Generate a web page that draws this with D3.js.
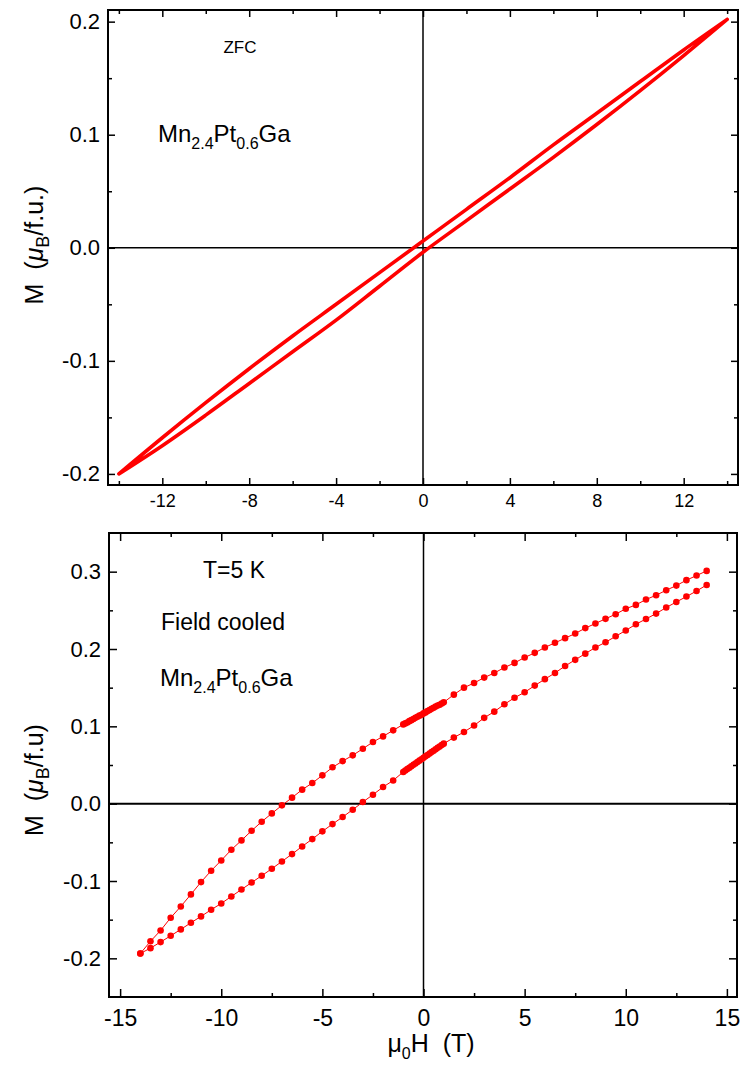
<!DOCTYPE html>
<html>
<head>
<meta charset="utf-8">
<script src="https://cdn.jsdelivr.net/npm/d3@7"></script>
<style>
  html, body { margin: 0; padding: 0; background: #fff; }
  svg { display: block; }
  text { font-family: "Liberation Sans", Arial, sans-serif; fill: #000; white-space: pre; }
</style>
</head>
<body>
<svg id="chart" width="743" height="1066"></svg>
<script>
// ---------------- DATA ----------------
// Top panel (ZFC): field sweep 14 T -> -14 T (upper branch) then -14 T -> 14 T (lower branch)
const zfcDownH = [14, 12, 10, 8, 6, 4, 2, 0, -2, -4, -6, -8, -10, -12, -14];
const zfcDownM = [0.202, 0.175, 0.147, 0.119, 0.091, 0.062, 0.034, 0.006, -0.022, -0.050, -0.078, -0.107, -0.137, -0.168, -0.200];
const zfcUpH = [-14, -12, -10, -8, -6, -4, -2, 0, 2, 4, 6, 8, 10, 12, 14];
const zfcUpM = [-0.200, -0.175, -0.148, -0.120, -0.092, -0.064, -0.034, -0.004, 0.024, 0.052, 0.080, 0.109, 0.139, 0.170, 0.202];

// Bottom panel (field cooled, T = 5 K): descending branch
const fcDownH = [14, 13.5, 13, 12.5, 12, 11.5, 11, 10.5, 10, 9.5, 9, 8.5, 8, 7.5, 7, 6.5, 6, 5.5, 5, 4.5, 4, 3.5, 3, 2.5, 2, 1.5,
  1.0, 0.9, 0.8, 0.7, 0.6, 0.5, 0.4, 0.3, 0.2, 0.1, 0.0, -0.1, -0.2, -0.3, -0.4, -0.5, -0.6, -0.7, -0.8, -0.9, -1.0,
  -1.5, -2, -2.5, -3, -3.5, -4, -4.5, -5, -5.5, -6, -6.5, -7, -7.5, -8, -8.5, -9, -9.5, -10, -10.5, -11, -11.5, -12, -12.5, -13, -13.5, -14];
const fcDownM = [0.301, 0.295, 0.289, 0.282, 0.276, 0.2695, 0.264, 0.257, 0.252, 0.245, 0.239, 0.233, 0.227, 0.220, 0.214, 0.208, 0.202, 0.195, 0.189, 0.182, 0.176, 0.169, 0.163, 0.156, 0.150, 0.141,
  0.131, 0.1296, 0.128, 0.127, 0.1255, 0.124, 0.1226, 0.121, 0.1197, 0.118, 0.1167, 0.115, 0.1138, 0.1124, 0.111, 0.1095, 0.108, 0.1067, 0.105, 0.1038, 0.1025,
  0.0948, 0.087, 0.0797, 0.071, 0.0625, 0.055, 0.047, 0.0366, 0.0267, 0.0181, 0.0078, -0.0022, -0.0126, -0.0233, -0.035, -0.0475, -0.0595, -0.0734, -0.0867, -0.1014, -0.1173, -0.1329, -0.1475, -0.164, -0.178, -0.1937];
// ascending branch
const fcUpH = [-14, -13.5, -13, -12.5, -12, -11.5, -11, -10.5, -10, -9.5, -9, -8.5, -8, -7.5, -7, -6.5, -6, -5.5, -5, -4.5, -4, -3.5, -3, -2.5, -2, -1.5,
  -1.0, -0.9, -0.8, -0.7, -0.6, -0.5, -0.4, -0.3, -0.2, -0.1, 0.0, 0.1, 0.2, 0.3, 0.4, 0.5, 0.6, 0.7, 0.8, 0.9, 1.0,
  1.5, 2, 2.5, 3, 3.5, 4, 4.5, 5, 5.5, 6, 6.5, 7, 7.5, 8, 8.5, 9, 9.5, 10, 10.5, 11, 11.5, 12, 12.5, 13, 13.5, 14];
const fcUpM = [-0.1937, -0.1868, -0.179, -0.1708, -0.1626, -0.154, -0.1458, -0.1372, -0.129, -0.120, -0.111, -0.102, -0.0932, -0.0841, -0.0747, -0.0652, -0.0553, -0.0458, -0.0358, -0.0264, -0.0173, -0.0078, 0.0021, 0.0116, 0.0215, 0.0300,
  0.041, 0.0428, 0.0447, 0.0465, 0.0483, 0.0502, 0.052, 0.0538, 0.0557, 0.0575, 0.0593, 0.0612, 0.063, 0.0648, 0.0667, 0.0685, 0.0703, 0.0722, 0.074, 0.0758, 0.0776,
  0.0854, 0.0927, 0.101, 0.111, 0.119, 0.1285, 0.137, 0.144, 0.1527, 0.161, 0.169, 0.178, 0.186, 0.194, 0.202, 0.2087, 0.2164, 0.224, 0.232, 0.2388, 0.2458, 0.2536, 0.2608, 0.2678, 0.275, 0.2828];

// Ticks
const topXMajor = [-12, -8, -4, 0, 4, 8, 12];
const topXMajorLabels = ["-12", "-8", "-4", "0", "4", "8", "12"];
const topXMinor = [-14, -10, -6, -2, 2, 6, 10, 14];
const topYMajor = [-0.2, -0.1, 0, 0.1, 0.2];
const topYMajorLabels = ["-0.2", "-0.1", "0.0", "0.1", "0.2"];
const topYMinor = [-0.15, -0.05, 0.05, 0.15];

const botXMajor = [-15, -10, -5, 0, 5, 10, 15];
const botXMajorLabels = ["-15", "-10", "-5", "0", "5", "10", "15"];
const botXMinor = [-12.5, -7.5, -2.5, 2.5, 7.5, 12.5];
const botYMajor = [-0.2, -0.1, 0, 0.1, 0.2, 0.3];
const botYMajorLabels = ["-0.2", "-0.1", "0.0", "0.1", "0.2", "0.3"];
const botYMinor = [-0.15, -0.05, 0.05, 0.15, 0.25];

// ---------------- DRAW ----------------
const svg = d3.select("#chart");
const RED = "#ff0000";

function panel(cfg) {
  const x = d3.scaleLinear().domain(cfg.xDomain).range([cfg.left, cfg.right]);
  const y = d3.scaleLinear().domain(cfg.yDomain).range([cfg.bottom, cfg.top]);
  const g = svg.append("g");

  g.append("line").attr("x1", x(0)).attr("x2", x(0)).attr("y1", cfg.top).attr("y2", cfg.bottom)
    .attr("stroke", "#000").attr("stroke-width", 1.5);
  g.append("line").attr("x1", cfg.left).attr("x2", cfg.right).attr("y1", y(0)).attr("y2", y(0))
    .attr("stroke", "#000").attr("stroke-width", cfg.hZeroWidth);

  const axisStyle = sel => {
    sel.select(".domain").remove();
    sel.selectAll(".tick line").attr("stroke", "#000").attr("stroke-width", 1.5);
  };
  g.append("g").attr("transform", `translate(0,${cfg.bottom})`)
    .call(d3.axisBottom(x).tickValues(cfg.xMajor).tickSize(-cfg.major).tickPadding(cfg.xPad)
      .tickFormat((d, i) => cfg.xLabels[i]))
    .call(axisStyle)
    .call(s => s.selectAll("text").attr("font-size", cfg.xFont));
  g.append("g").attr("transform", `translate(0,${cfg.bottom})`)
    .call(d3.axisBottom(x).tickValues(cfg.xMinor).tickSize(-cfg.minor).tickFormat(""))
    .call(axisStyle);
  g.append("g").attr("transform", `translate(0,${cfg.top})`)
    .call(d3.axisTop(x).tickValues(cfg.xMajor).tickSize(-cfg.major).tickFormat(""))
    .call(axisStyle);
  g.append("g").attr("transform", `translate(0,${cfg.top})`)
    .call(d3.axisTop(x).tickValues(cfg.xMinor).tickSize(-cfg.minor).tickFormat(""))
    .call(axisStyle);
  g.append("g").attr("transform", `translate(${cfg.left},0)`)
    .call(d3.axisLeft(y).tickValues(cfg.yMajor).tickSize(-cfg.major).tickPadding(cfg.yPad)
      .tickFormat((d, i) => cfg.yLabels[i]))
    .call(axisStyle)
    .call(s => s.selectAll("text").attr("font-size", cfg.yFont));
  g.append("g").attr("transform", `translate(${cfg.left},0)`)
    .call(d3.axisLeft(y).tickValues(cfg.yMinor).tickSize(-cfg.minor).tickFormat(""))
    .call(axisStyle);
  g.append("g").attr("transform", `translate(${cfg.right},0)`)
    .call(d3.axisRight(y).tickValues(cfg.yMajor).tickSize(-cfg.major).tickFormat(""))
    .call(axisStyle);
  g.append("g").attr("transform", `translate(${cfg.right},0)`)
    .call(d3.axisRight(y).tickValues(cfg.yMinor).tickSize(-cfg.minor).tickFormat(""))
    .call(axisStyle);

  g.append("rect").attr("x", cfg.left).attr("y", cfg.top)
    .attr("width", cfg.right - cfg.left).attr("height", cfg.bottom - cfg.top)
    .attr("fill", "none").attr("stroke", "#000").attr("stroke-width", 2);

  return { x, y, g };
}

// ---- top panel ----
const P1 = panel({
  left: 108, right: 738, top: 10, bottom: 485,
  xDomain: [-14.5, 14.5], yDomain: [-0.2098, 0.2103],
  xMajor: topXMajor, xLabels: topXMajorLabels, xMinor: topXMinor,
  yMajor: topYMajor, yLabels: topYMajorLabels, yMinor: topYMinor,
  major: 7, minor: 4, xPad: 9, yPad: 8, xFont: 18, yFont: 22, hZeroWidth: 1.5
});
const zfcPts = zfcDownH.map((h, i) => [h, zfcDownM[i]])
  .concat(zfcUpH.map((h, i) => [h, zfcUpM[i]]));
P1.g.append("path")
  .attr("d", d3.line().x(d => P1.x(d[0])).y(d => P1.y(d[1])).curve(d3.curveCatmullRom)(zfcPts))
  .attr("fill", "none").attr("stroke", RED).attr("stroke-width", 3.6)
  .attr("stroke-linejoin", "round").attr("stroke-linecap", "round");

// ---- bottom panel ----
const P2 = panel({
  left: 109, right: 737, top: 533, bottom: 997,
  xDomain: [-15.55, 15.5], yDomain: [-0.25, 0.35],
  xMajor: botXMajor, xLabels: botXMajorLabels, xMinor: botXMinor,
  yMajor: botYMajor, yLabels: botYMajorLabels, yMinor: botYMinor,
  major: 8, minor: 4, xPad: 13, yPad: 8, xFont: 23, yFont: 22, hZeroWidth: 2
});
const fcPts = fcDownH.map((h, i) => [h, fcDownM[i]])
  .concat(fcUpH.map((h, i) => [h, fcUpM[i]]));
P2.g.append("path")
  .attr("d", d3.line().x(d => P2.x(d[0])).y(d => P2.y(d[1]))(fcPts))
  .attr("fill", "none").attr("stroke", RED).attr("stroke-width", 1);
P2.g.selectAll("circle.pt").data(fcPts).join("circle")
  .attr("class", "pt")
  .attr("cx", d => P2.x(d[0])).attr("cy", d => P2.y(d[1]))
  .attr("r", 3.3).attr("fill", RED);

// ---------------- TEXT ----------------
function yTitle(cx, cy, tail) {
  const t = svg.append("text")
    .attr("transform", `translate(${cx},${cy}) rotate(-90)`)
    .attr("text-anchor", "middle").attr("font-size", 25);
  t.append("tspan").text("M  (");
  t.append("tspan").attr("font-style", "italic").text("\u03bc");
  t.append("tspan").attr("font-size", 18).attr("dy", 6).text("B");
  t.append("tspan").attr("dy", -6).text(tail);
}
yTitle(43, 245, "/f.u.)");
yTitle(43, 780, "/f.u)");

{
  const t = svg.append("text").attr("x", 431).attr("y", 1052)
    .attr("text-anchor", "middle").attr("font-size", 25);
  t.append("tspan").text("\u03bc");
  t.append("tspan").attr("font-size", 16).attr("dy", 7).text("0");
  t.append("tspan").attr("dy", -7).text("H  (T)");
}

function formula(x, y, size) {
  const t = svg.append("text").attr("x", x).attr("y", y).attr("font-size", size);
  const sub = Math.round(size * 0.68);
  t.append("tspan").text("Mn");
  t.append("tspan").attr("font-size", sub).attr("dy", size * 0.3).text("2.4");
  t.append("tspan").attr("dy", -size * 0.3).text("Pt");
  t.append("tspan").attr("font-size", sub).attr("dy", size * 0.3).text("0.6");
  t.append("tspan").attr("dy", -size * 0.3).text("Ga");
}

svg.append("text").attr("x", 240).attr("y", 53).attr("text-anchor", "middle")
  .attr("font-size", 17).text("ZFC");
formula(158, 142, 24);

svg.append("text").attr("x", 234).attr("y", 578).attr("text-anchor", "middle")
  .attr("font-size", 23).text("T=5 K");
svg.append("text").attr("x", 223).attr("y", 630).attr("text-anchor", "middle")
  .attr("font-size", 23).text("Field cooled");
formula(160, 686, 24);
</script>
</body>
</html>
